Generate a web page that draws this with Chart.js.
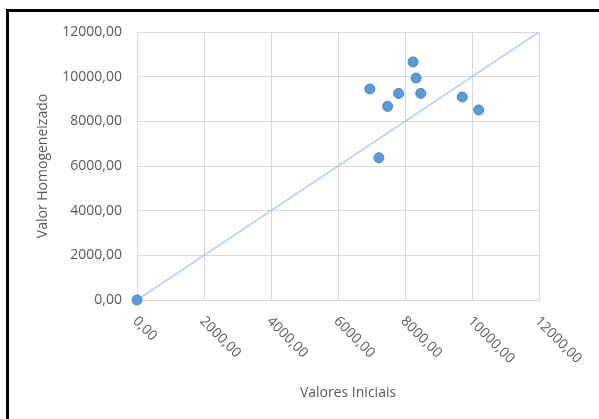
<!DOCTYPE html>
<html lang="pt">
<head>
  <meta charset="UTF-8">
  <title>Valor Homogeneizado x Valores Iniciais</title>
  <script src="https://cdn.jsdelivr.net/npm/chart.js"></script>
  <style>
    html, body {
      margin: 0;
      padding: 0;
      background: #fff;
      overflow: hidden;
    }
    .wrap {
      position: relative;
      width: 599px;
      height: 419px;
    }
    .frame {
      position: absolute;
      left: 6px;
      top: 9px;
      width: 620px;
      height: 430px;
      border-top: 3px solid #000;
      border-left: 3px solid #000;
      pointer-events: none;
    }
  </style>
</head>
<body>

<div class="wrap">
  <canvas id="scatterChart" width="599" height="419"></canvas>
  <div class="frame"></div>
</div>

<script>
  // valores
  const valoresIniciais = [0, 6950, 7220, 7480, 7810, 8240, 8330, 8470, 9710, 10200];
  const valoresHomog = [0, 9450, 6370, 8670, 9250, 10660, 9940, 9250, 9090, 8510];

  // linha de referencia y = x
  const linhaX = [0, 12000];
  const linhaY = [0, 12000];

  const tickValues = [0, 2000, 4000, 6000, 8000, 10000, 12000];
  const tickLabels = ['0,00', '2000,00', '4000,00', '6000,00', '8000,00', '10000,00', '12000,00'];

  const tituloX = 'Valores Iniciais';
  const tituloY = 'Valor Homogeneizado';

  const textColor = '#595959';
  const gridColor = '#d9d9d9';
  const fontFamily = '"Open Sans", sans-serif';

  // rotulos do eixo x inclinados para baixo (estilo Excel) e titulo do eixo x
  const xLabelsPlugin = {
    id: 'xLabels',
    afterDraw(chart) {
      const ctx = chart.ctx;
      const xs = chart.scales.x;
      const area = chart.chartArea;
      const baseY = area.bottom + 19;
      ctx.save();
      ctx.fillStyle = textColor;
      ctx.font = '14px ' + fontFamily;
      ctx.textAlign = 'left';
      ctx.textBaseline = 'middle';
      tickValues.forEach((v, i) => {
        const px = xs.getPixelForValue(v);
        ctx.save();
        ctx.translate(px - 2, baseY);
        ctx.rotate(Math.PI / 4);
        ctx.fillText(tickLabels[i], 0, 0);
        ctx.restore();
      });
      ctx.textAlign = 'center';
      ctx.fillText(tituloX, (area.left + area.right) / 2 + 10, area.bottom + 93);
      ctx.restore();
    }
  };

  new Chart(document.getElementById('scatterChart').getContext('2d'), {
    type: 'scatter',
    data: {
      datasets: [{
        label: 'Valores',
        data: valoresIniciais.map((x, i) => ({ x: x, y: valoresHomog[i] })),
        backgroundColor: '#5b9bd5',
        borderColor: '#4a86c2',
        borderWidth: 1,
        pointRadius: 5,
        clip: false,
        order: 0
      }, {
        type: 'line',
        label: 'y = x',
        data: linhaX.map((x, i) => ({ x: x, y: linhaY[i] })),
        borderColor: '#a4c6e6',
        borderWidth: 1.3,
        pointRadius: 0,
        fill: false,
        clip: false,
        order: 1
      }]
    },
    options: {
      responsive: false,
      animation: false,
      layout: {
        padding: { left: 0, top: 32, right: 60, bottom: 0 }
      },
      plugins: {
        legend: { display: false },
        tooltip: { enabled: false }
      },
      scales: {
        x: {
          type: 'linear',
          min: 0,
          max: 12000,
          afterBuildTicks: s => { s.ticks = tickValues.map(v => ({ value: v })); },
          afterFit: s => { s.height = 119; },
          ticks: { display: false },
          grid: { color: gridColor, drawTicks: false },
          border: { color: gridColor }
        },
        y: {
          type: 'linear',
          min: 0,
          max: 12000,
          afterBuildTicks: s => { s.ticks = tickValues.map(v => ({ value: v })); },
          afterFit: s => { s.width = 137; },
          ticks: {
            color: textColor,
            font: { family: fontFamily, size: 14 },
            padding: 15,
            callback: (v, i) => tickLabels[i]
          },
          grid: { color: gridColor, drawTicks: false },
          border: { color: gridColor },
          title: {
            display: true,
            text: tituloY,
            color: textColor,
            font: { family: fontFamily, size: 14 },
            padding: { top: 35, bottom: 0 }
          }
        }
      }
    },
    plugins: [xLabelsPlugin]
  });
</script>

</body>
</html>
